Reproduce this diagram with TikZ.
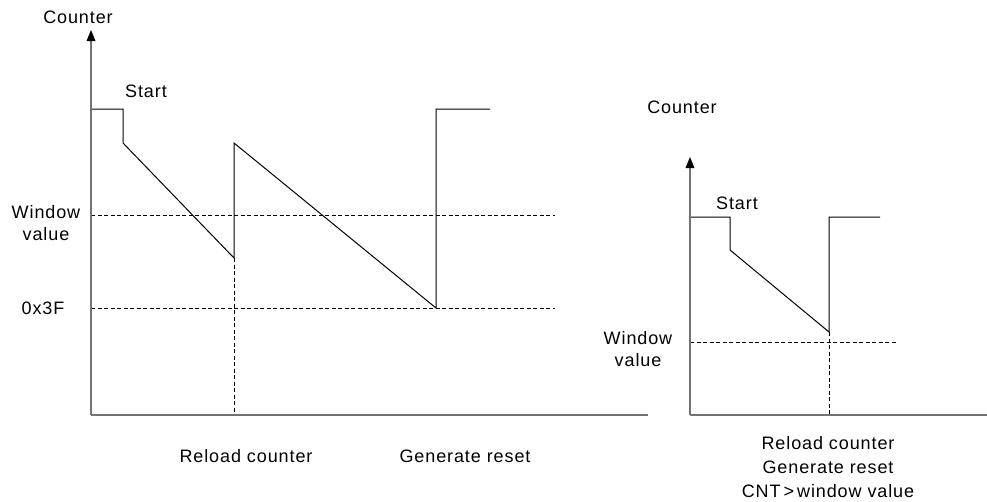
\documentclass[tikz,border=0pt]{standalone}
\usepackage{fontspec}
\setmainfont[LetterSpace=5]{Liberation Sans}
\begin{document}
\begin{tikzpicture}[x=1pt,y=-1pt,
  axis/.style={draw=black!55,line width=1.3pt},
  tiphead/.style={fill=black},
  wave/.style={draw=black,line width=1pt,line join=miter},
  guide/.style={draw=black,line width=0.8pt,dash pattern=on 4pt off 2.5pt},
  lbl/.style={font=\fontsize{18}{22}\selectfont,inner sep=0pt,align=center},
  lbl3/.style={font=\fontsize{18}{24}\selectfont,inner sep=0pt,align=center}]
\useasboundingbox (0,0) rectangle (987,501);
% ---------- left diagram ----------
\coordinate (LO) at (91,415);
\coordinate (LT) at (91,30);
\coordinate (LB) at (91,40);
\coordinate (LX) at (648,415);
\coordinate (a1) at (91,109);
\coordinate (a2) at (123,109);
\coordinate (a3) at (123,143);
\coordinate (a4) at (234,258);
\coordinate (a5) at (234,143);
\coordinate (a6) at (436,308);
\coordinate (a7) at (436,109);
\coordinate (a8) at (490,109);
\coordinate (w1) at (91,215);
\coordinate (w2) at (555,215);
\coordinate (h1) at (91,308);
\coordinate (h2) at (555,308);
\coordinate (v1) at (234,415);
\draw[guide] (w1) -- (w2);
\draw[guide] (h1) -- (h2);
\draw[guide] (a4) -- (v1);
\draw[wave] (a1) -- (a2) -- (a3) -- (a4) -- (a5) -- (a6) -- (a7) -- (a8);
\draw[axis] (LO) -- (LX);
\draw[axis] (LO) -- (LB);
\fill[tiphead] (LT) -- ([shift={(-4.5,11)}]LT) -- ([shift={(4.5,11)}]LT) -- cycle;
\node[lbl] (lcounter) at (78,17) {Counter};
\node[lbl] (lstart) at (146,91) {Start};
\node[lbl] (lwin) at (46,223) {Window\\value};
\node[lbl] (l3f) at (43,308) {0x3F};
\node[lbl] (lreload) at (246,456) {Reload counter};
\node[lbl] (lgen) at (465,456) {Generate reset};
% ---------- right diagram ----------
\coordinate (RO) at (690,415);
\coordinate (RT) at (690,157);
\coordinate (RB) at (690,167);
\coordinate (RX) at (987,415);
\coordinate (b1) at (690,217);
\coordinate (b2) at (730,217);
\coordinate (b3) at (730,250);
\coordinate (b4) at (829,332);
\coordinate (b5) at (829,217);
\coordinate (b6) at (880,217);
\coordinate (rw1) at (690,342);
\coordinate (rw2) at (897,342);
\coordinate (rv1) at (829,415);
\draw[guide] (rw1) -- (rw2);
\draw[guide] (b4) -- (rv1);
\draw[wave] (b1) -- (b2) -- (b3) -- (b4) -- (b5) -- (b6);
\draw[axis] (RO) -- (RX);
\draw[axis] (RO) -- (RB);
\fill[tiphead] (RT) -- ([shift={(-4.5,11)}]RT) -- ([shift={(4.5,11)}]RT) -- cycle;
\node[lbl] (rcounter) at (682,107) {Counter};
\node[lbl] (rstart) at (737,203) {Start};
\node[lbl] (rwin) at (638,349) {Window\\value};
\node[lbl3] (rtext) at (828,467) {Reload counter\\Generate reset\\CNT\,>\,window value};
\end{tikzpicture}
\end{document}
